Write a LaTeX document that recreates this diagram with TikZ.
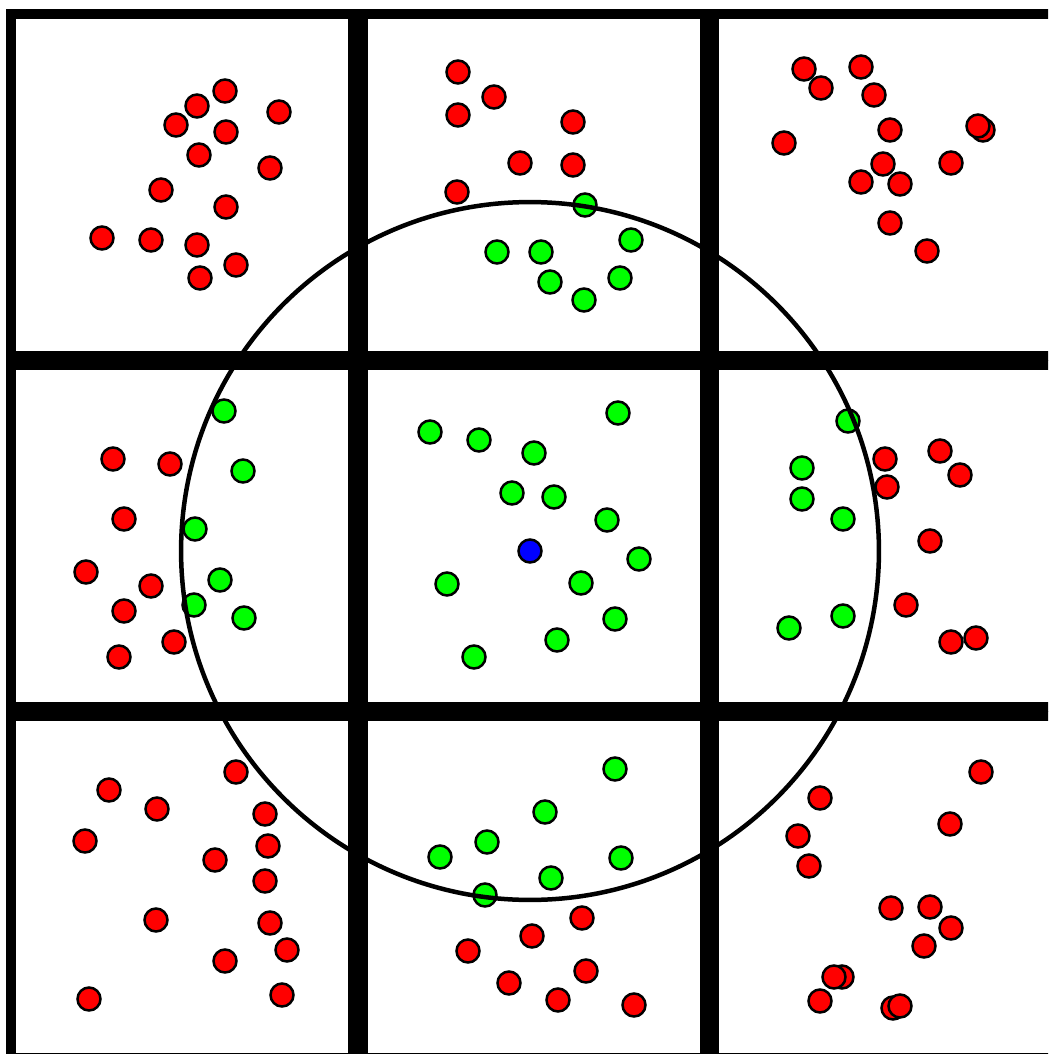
\documentclass[tikz,border=0pt]{standalone}
\usepackage{tikz}
\usepackage{xcolor}

\definecolor{ptred}{RGB}{255,0,0}
\definecolor{ptgreen}{RGB}{0,255,0}
\definecolor{ptblue}{RGB}{0,0,255}

\tikzset{
  cell/.style={line width=0.2cm, draw=black},
  pt/.style={line width=0.05cm, draw=black},
  redpt/.style={pt, fill=ptred},
  greenpt/.style={pt, fill=ptgreen},
  bluept/.style={pt, fill=ptblue},
  radius ring/.style={line width=0.09cm, draw=black}
}

\begin{document}
\begin{tikzpicture}[x=0.02cm, y=-0.02cm]
  \useasboundingbox (0,0) rectangle (1048,1054);
  \clip (0,0) rectangle (1048,1054);
  \fill[white] (0,0) rectangle (1048,1054);
  % Gitter 3x3
  \foreach \i in {0,1,2} {
    \foreach \j in {0,1,2} {
      \draw[cell] ({6+351.5*\i+5},{9+351*\j+5}) rectangle ({6+351.5*\i+347},{9+351*\j+346.5});
    }
  }
  % Punkter uden for radius
  \foreach \px/\py in {225/91, 197/106, 279/112, 176/125, 226/132, 199/155, 270/168,
      161/190, 226/207, 102/238, 151/240, 197/245, 236/265, 200/278,
      458/72, 494/97, 458/115, 573/122, 520/163, 573/165, 457/192,
      804/69, 861/67, 821/88, 874/95, 890/130, 784/143, 983/130, 978/126,
      951/163, 883/164, 861/182, 900/184, 890/223, 927/251,
      113/459, 170/464, 124/519, 86/572, 151/586, 124/611, 174/642, 119/657,
      885/459, 940/451, 960/475, 887/487, 930/541, 906/605, 951/642, 976/638,
      236/772, 109/790, 157/809, 265/814, 85/841, 268/846, 215/860, 265/881,
      156/920, 270/923, 287/950, 225/961, 89/999, 282/995,
      582/918, 532/936, 468/951, 586/971, 509/983, 558/1000, 634/1005,
      981/772, 820/798, 950/824, 798/836, 809/866, 891/908, 930/907, 951/928,
      924/946, 842/977, 834/977, 820/1001, 893/1008, 900/1006}
    \draw[redpt] (\px,\py) circle (0.23cm);
  % Punkter inden for radius
  \foreach \px/\py in {585/205, 631/240, 497/252, 541/252, 550/282, 620/278, 584/300,
      224/411, 243/471, 195/529, 220/580, 194/605, 244/618,
      618/413, 430/432, 479/440, 534/453, 512/493, 554/497, 607/520, 639/559,
      447/584, 581/583, 615/619, 557/640, 474/657,
      848/421, 802/468, 802/499, 843/519, 789/628, 843/616,
      615/769, 545/812, 487/842, 440/857, 621/858, 551/878, 485/895}
    \draw[greenpt] (\px,\py) circle (0.23cm);
  % Forespoergselspunkt
  \draw[bluept] (530,551) coordinate (q) circle (0.23cm);
  % Soegeradius
  \draw[radius ring] (q) circle (6.98cm);
\end{tikzpicture}
\end{document}
